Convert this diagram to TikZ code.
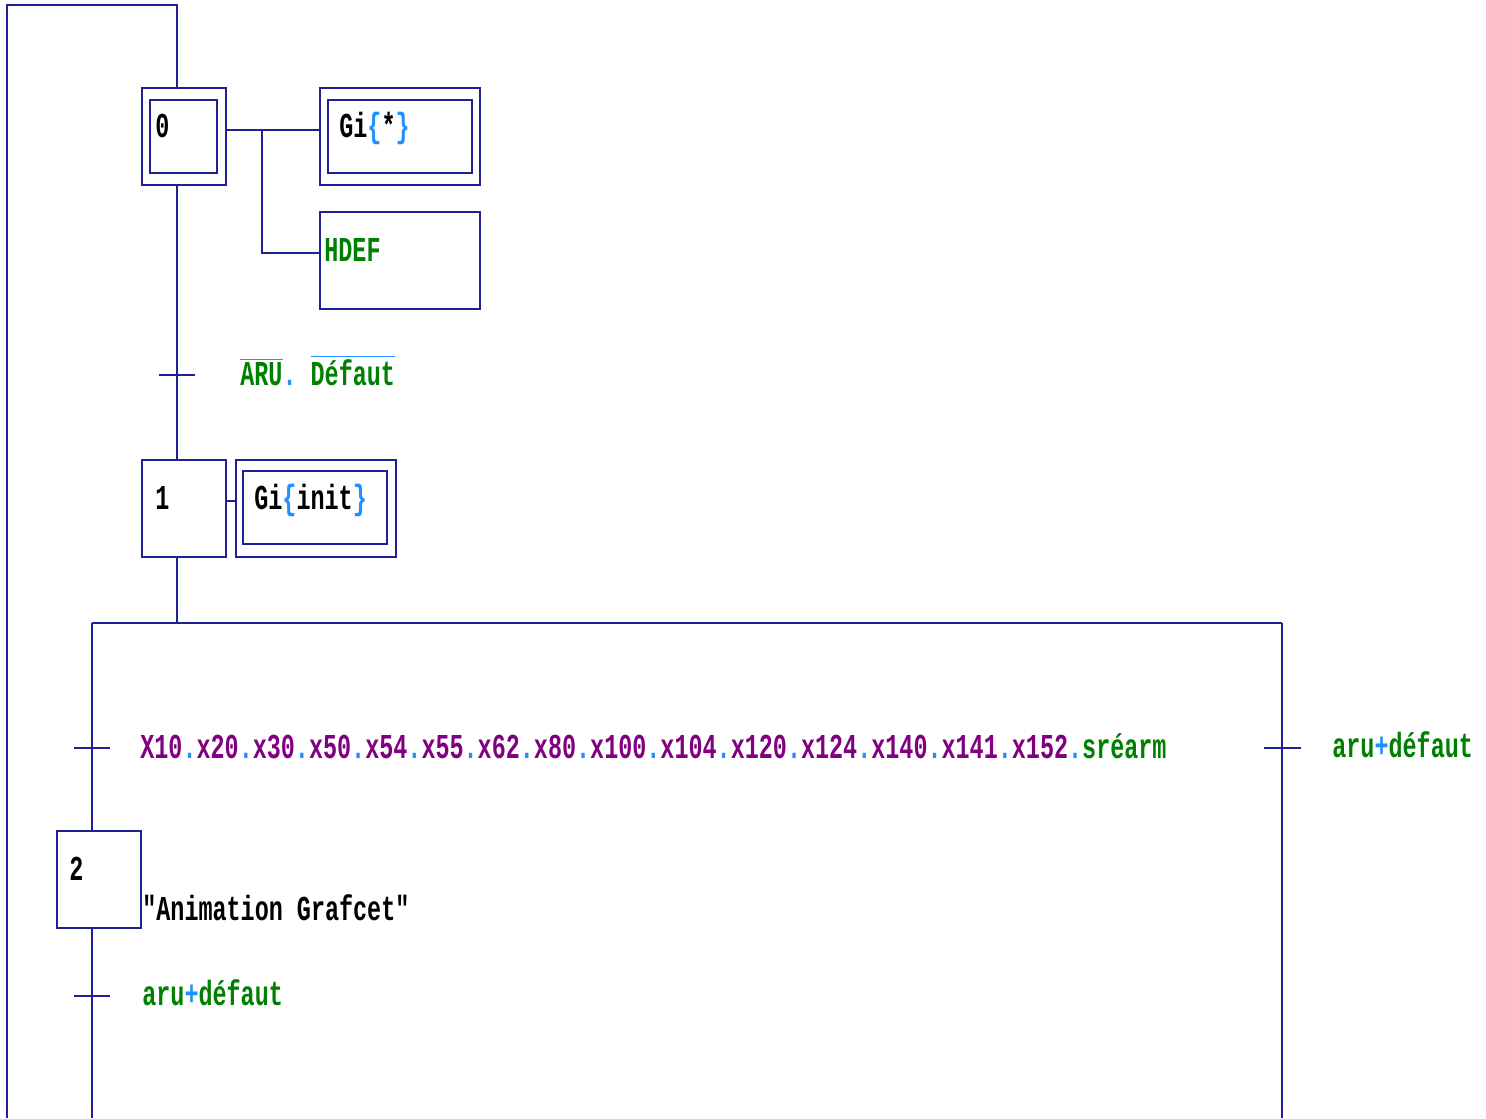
\documentclass[tikz,border=0pt]{standalone}
\usepackage{fontspec}
\usepackage{xcolor}
\usepackage{tikz}
\usetikzlibrary{positioning}
\newfontfamily\grafmono[FakeStretch=0.67]{Liberation Mono}
\definecolor{grline}{RGB}{32,32,150}
\definecolor{grgreen}{RGB}{0,128,0}
\definecolor{grpurple}{RGB}{128,0,128}
\definecolor{dotblue}{RGB}{30,144,255}
\newcommand\gdot{\textcolor{dotblue}{.}}
\newcommand\gneg[1]{\textcolor{dotblue}{$\overline{\mbox{\color{grgreen}#1}}$}}

\begin{document}
\begin{tikzpicture}[
  x=0.02cm, y=-0.02cm,
  font=\grafmono\bfseries\fontsize{19.9}{24}\selectfont,
  ln/.style={draw=grline, line width=1.1pt},
  etape/.style={ln, minimum width=1.68cm, minimum height=1.94cm, inner sep=0pt, anchor=north west},
  action/.style={ln, minimum width=3.2cm, minimum height=1.94cm, inner sep=0pt, anchor=north west},
  txt/.style={anchor=base west, inner sep=0pt}]
\useasboundingbox (0,0) rectangle (1486,1118);

% steps
\node[etape] (s0) at (141,87) {};
\node[etape] (s1) at (141,459) {};
\node[etape] (s2) at (56,830) {};
\draw[ln] ([shift={(9,13)}]s0.north west) rectangle ([shift={(-10,-13)}]s0.south east);
\node[txt] (n0) at (155,138) {0};
\node[txt] (n1) at (155,509) {1};
\node[txt] (n2) at (69,880) {2};

% actions
\node[action] (a0) at (319,87) {};
\draw[ln] ([shift={(9,13)}]a0.north west) rectangle ([shift={(-9,-13)}]a0.south east);
\node[txt] (ga0) at (339,138) {Gi\textcolor{dotblue}{\{}*\textcolor{dotblue}{\}}};
\node[action] (hdef) at (319,211) {};
\node[txt, text=grgreen] (th) at (324,262) {HDEF};
\node[action] (a1) at (235,459) {};
\draw[ln] ([shift={(8,12)}]a1.north west) rectangle ([shift={(-10,-14)}]a1.south east);
\node[txt] (ga1) at (254,509) {Gi\textcolor{dotblue}{\{}init\textcolor{dotblue}{\}}};
\node[txt] (ga2) at (142,920) {"Animation Grafcet"};

\coordinate (br0) at (262,129);
\draw[ln] ([yshift=0.13cm]s0.east) -- ([yshift=0.13cm]a0.west);
\draw[ln] (br0) |- ([yshift=0.15cm]hdef.west);
\draw[ln] ([yshift=0.15cm]s1.east) -- ([yshift=0.15cm]a1.west);

% links and loop
\coordinate (top0) at (177,5);
\coordinate (loopL) at (7,5);
\coordinate (loopB) at (7,1118);
\coordinate (div) at (177,623);
\coordinate (divL) at (92,623);
\coordinate (divR) at (1282,623);
\coordinate (endL) at (92,1118);
\coordinate (endR) at (1282,1118);
\draw[ln] (s0.north -| top0) -- (top0) -- (loopL) -- (loopB);
\draw[ln] (s0.south -| top0) -- (s1.north -| top0);
\draw[ln] (s1.south -| top0) -- (div);
\draw[ln] (divL) -- (divR);
\draw[ln] (divL) -- (s2.north -| divL);
\draw[ln] (s2.south -| divL) -- (endL);
\draw[ln] (divR) -- (endR);

% transitions
\coordinate (t01) at (177,375);
\coordinate (t12) at (92,748);
\coordinate (t1r) at (1282,748);
\coordinate (t2) at (92,996);
\foreach \t in {t01,t12,t1r,t2}
  \draw[ln] ([xshift=-0.37cm]\t) -- ([xshift=0.37cm]\t);

\node[txt, text=grgreen] (r01) at (240,385) {\gneg{ARU}\gdot\ \gneg{Défaut}};
\node[txt, text=grpurple] (r12) at (140,758) {X10\gdot x20\gdot x30\gdot x50\gdot x54\gdot x55\gdot x62\gdot x80\gdot x100\gdot x104\gdot x120\gdot x124\gdot x140\gdot x141\gdot x152\gdot\textcolor{grgreen}{sréarm}};
\node[txt, text=grgreen] (r1r) at (1332,757) {aru\textcolor{dotblue}{+}défaut};
\node[txt, text=grgreen] (r2) at (142,1005) {aru\textcolor{dotblue}{+}défaut};
\end{tikzpicture}
\end{document}
